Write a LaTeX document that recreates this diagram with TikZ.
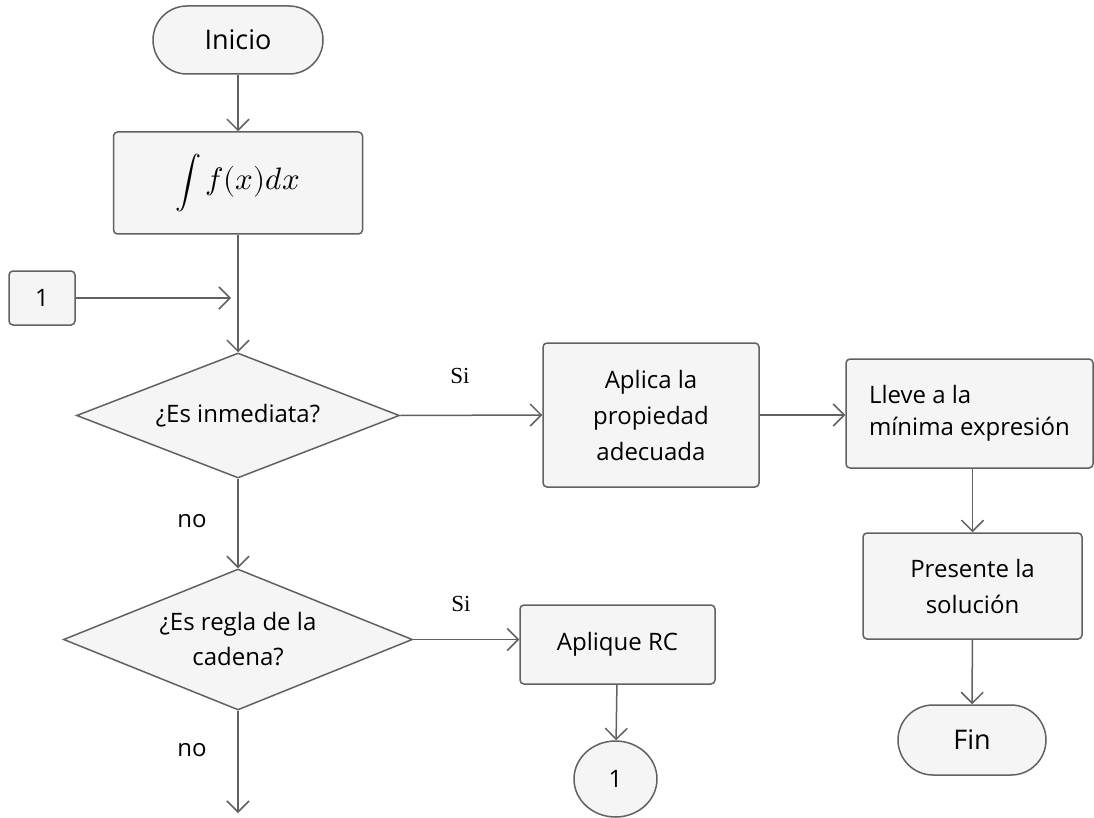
\documentclass[tikz,border=0pt]{standalone}
\usepackage{fontspec}
\usepackage{unicode-math}
\setmainfont{Open Sans}
\setmathfont{Latin Modern Math}
\newfontfamily\sifont{Liberation Serif}
\usetikzlibrary{shapes.geometric,arrows.meta}
\definecolor{linec}{gray}{0.38}
\definecolor{fillc}{gray}{0.96}
\tikzset{
  base/.style={draw=linec,fill=fillc,line width=1.5pt,text=black,
    font=\fontsize{24}{36}\selectfont,align=center,inner sep=0pt},
  proc/.style={base,rounded corners=4pt},
  term/.style={base,font=\fontsize{27}{36}\selectfont},
  deci/.style={base,diamond},
  conn/.style={base,ellipse},
  flow/.style={draw=linec,line width=1.5pt,-{Straight Barb[length=11pt,width=22pt]}},
  lbl/.style={font=\fontsize{24}{30}\selectfont},
  silbl/.style={font=\sifont\fontsize{23}{26}\selectfont}
}

\begin{document}
\begin{tikzpicture}[x=1pt,y=-1pt]
    \useasboundingbox (0,0) rectangle (1094,818);
    \node[term,rounded corners=34pt,minimum width=170pt,minimum height=68pt](inicio)at(238,40){Inicio};
    \node[proc,minimum width=249pt,minimum height=102pt](integral)at(238,183){{\fontsize{26}{30}\selectfont$\displaystyle\int$}\,{\fontsize{31}{34}\selectfont$f(x)dx$}};
    \node[proc,minimum width=66pt,minimum height=54pt](uno)at(42,298){1};
    \coordinate(junta)at(231,298);
    \node[deci,aspect=2.58,minimum width=323pt,minimum height=125pt](inmed)at(238,415.5){¿Es inmediata?};
    \node[proc,minimum width=216pt,minimum height=144pt](aplica)at(651,415){Aplica la\\propiedad\\adecuada};
    \node[proc,minimum width=247pt,minimum height=109pt,align=left,font=\fontsize{24}{32}\selectfont](lleve)at(969.5,413.5){Lleve a la\\mínima expresión};
    \node[proc,minimum width=219pt,minimum height=106pt](presente)at(972.5,586){Presente la\\solución};
    \node[term,rounded corners=35pt,minimum width=148pt,minimum height=70pt](fin)at(972,740){Fin};
    \node[deci,aspect=2.47,minimum width=349pt,minimum height=141pt,font=\fontsize{24}{35}\selectfont](cadena)at(238,639.5){¿Es regla de la\\cadena?};
    \node[proc,minimum width=195pt,minimum height=79pt](rc)at(617.5,644.5){Aplique RC};
    \node[conn,minimum width=83pt,minimum height=76pt](circ)at(615.5,779){1};
    \coordinate(abajo)at(238,813);
    \draw[flow](inicio)--(integral);
    \draw[flow](integral)--(inmed);
    \draw[flow](uno)--(junta);
    \draw[flow](inmed.east)--(aplica.west);
    \draw[flow](aplica.east)--(aplica.east-|lleve.west);
    \draw[flow](lleve.south-|presente.north)--(presente.north);
    \draw[flow](presente)--(fin);
    \draw[flow](inmed.south)--(cadena.north);
    \draw[flow](cadena.east)--(cadena.east-|rc.west);
    \draw[flow](rc)--(circ);
    \draw[flow](cadena.south)--(abajo);
    \node[silbl](si1)at(460,376){Si};
    \node[silbl](si2)at(461,604){Si};
    \node[lbl](no1)at(192,521){no};
    \node[lbl](no2)at(192,750){no};
  \end{tikzpicture}
\end{document}
